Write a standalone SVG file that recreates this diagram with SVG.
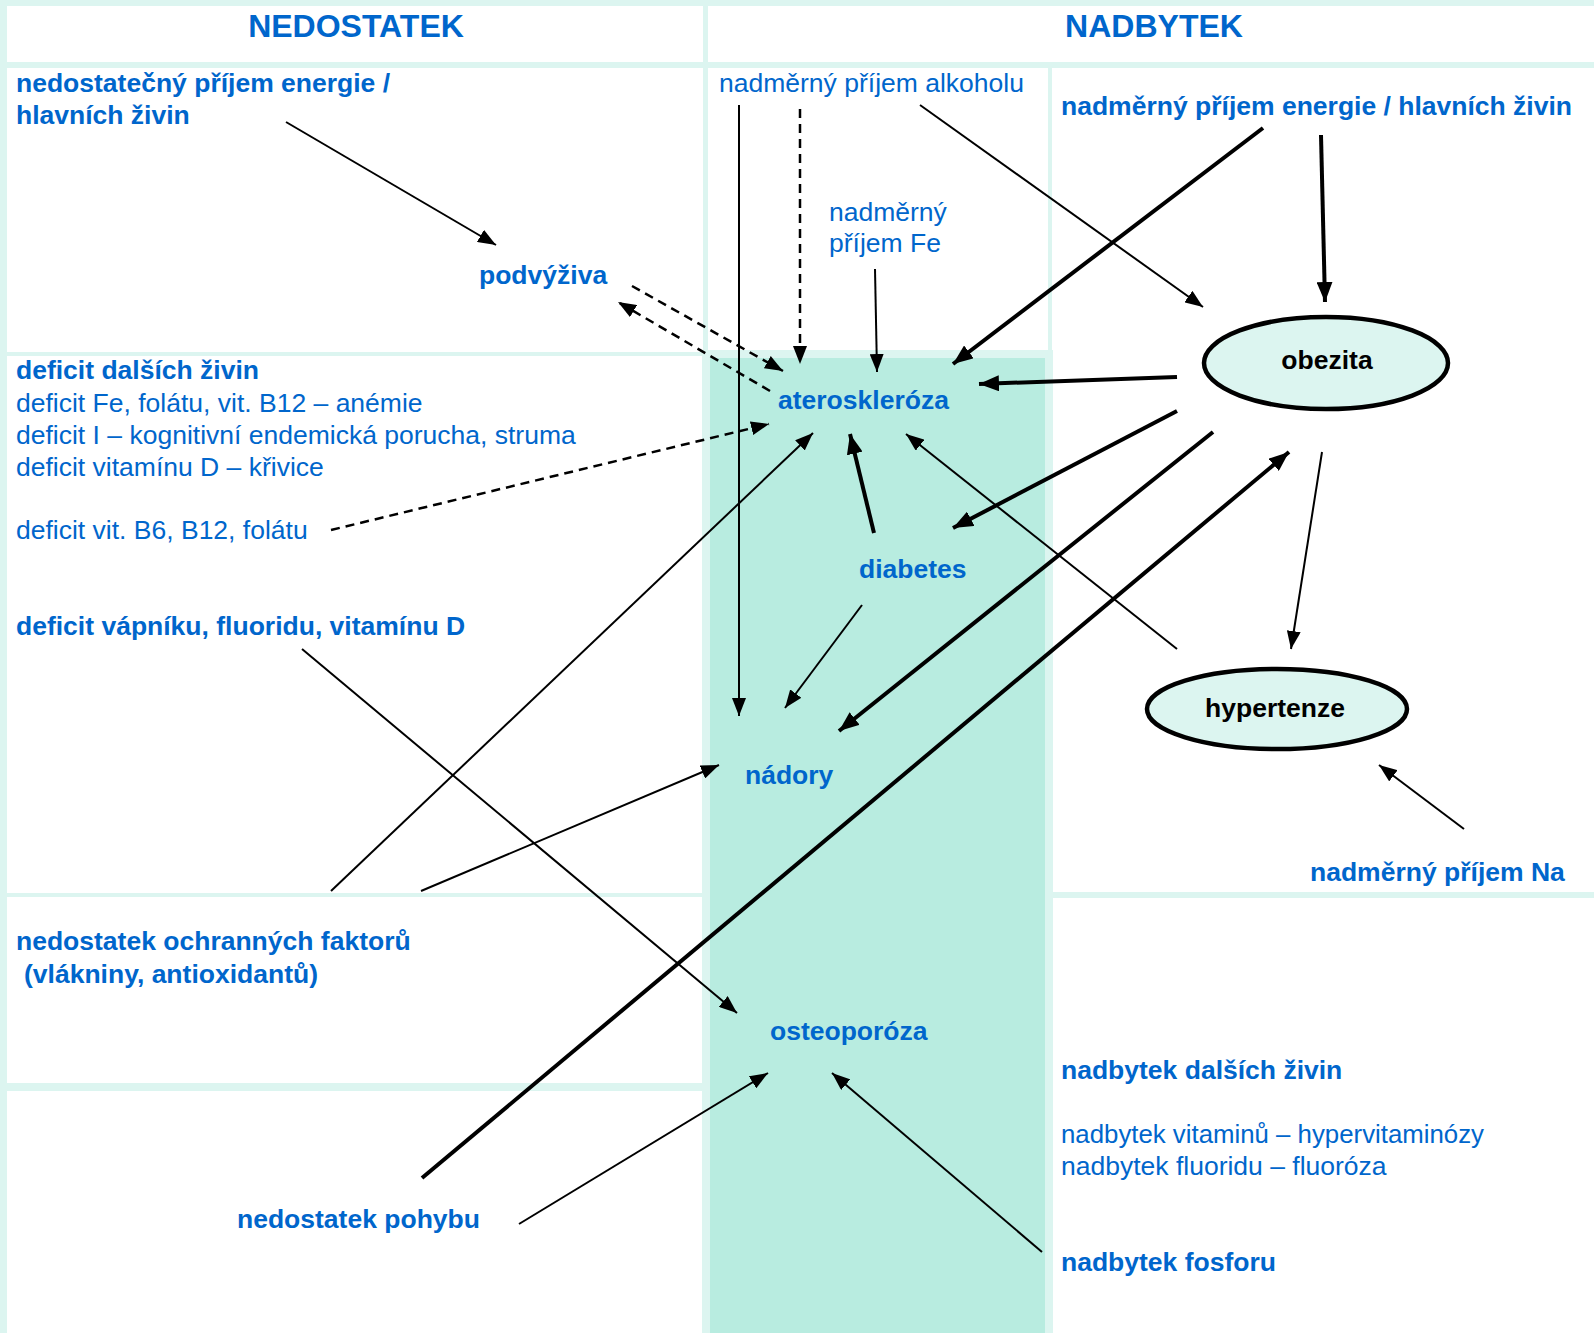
<svg xmlns="http://www.w3.org/2000/svg" width="1594" height="1333" viewBox="0 0 1594 1333">
<style>
text{font-family:"Liberation Sans",Arial,sans-serif;font-size:26.5px;fill:#0066cc}
.b{font-weight:bold}
.hd{font-size:32px;font-weight:bold;text-anchor:middle}
.blk{fill:#000;font-weight:bold;text-anchor:middle}
.cell{fill:#fff}
.thin{stroke:#000;stroke-width:2;fill:none;marker-end:url(#ah)}
.thick{stroke:#000;stroke-width:4;fill:none;marker-end:url(#ahL)}
.dash{stroke:#000;stroke-width:2.5;fill:none;stroke-dasharray:9 6;marker-end:url(#ah)}
.ell{fill:#dcf5f0;stroke:#000;stroke-width:4.5}
</style>
<defs>
<marker id="ah" markerUnits="userSpaceOnUse" markerWidth="18" markerHeight="14" refX="18" refY="7" orient="auto"><path d="M0,0 L18,7 L0,14 z" fill="#000"/></marker>
<marker id="ahL" markerUnits="userSpaceOnUse" markerWidth="20" markerHeight="16" refX="20" refY="8" orient="auto"><path d="M0,0 L20,8 L0,16 z" fill="#000"/></marker>
</defs>
<g id="background">
<rect x="0" y="0" width="1594" height="1333" fill="#dcf5f0"/>
<rect class="cell" x="7" y="6" width="696" height="56"/>
<rect class="cell" x="708" y="6" width="886" height="56"/>
<rect class="cell" x="7" y="68" width="696" height="284"/>
<rect class="cell" x="708" y="68" width="340" height="282"/>
<rect class="cell" x="1052" y="68" width="542" height="824"/>
<rect class="cell" x="7" y="356" width="695" height="537"/>
<rect class="cell" x="7" y="897" width="695" height="186"/>
<rect class="cell" x="7" y="1091" width="697" height="242"/>
<rect class="cell" x="1052" y="898" width="542" height="435"/>
<rect x="702" y="350" width="351" height="983" fill="#dcf5f0"/>
<rect x="710" y="358" width="335" height="975" fill="#b8ece0"/>
</g>
<g id="headers">
<text class="hd" x="356" y="37">NEDOSTATEK</text>
<text class="hd" x="1154" y="37">NADBYTEK</text>
</g>
<g id="connectors">
<line class="thin" x1="286" y1="122" x2="496" y2="245"/>
<line class="dash" x1="632" y1="286" x2="783" y2="371"/>
<line class="dash" x1="770" y1="391" x2="618" y2="302"/>
<line class="dash" x1="800" y1="109" x2="800" y2="364"/>
<line class="thin" x1="739" y1="105" x2="739" y2="716"/>
<line class="thin" x1="920" y1="105" x2="1203" y2="307"/>
<line class="thin" x1="875" y1="269" x2="877" y2="372"/>
<line class="thick" x1="1263" y1="128" x2="953" y2="364"/>
<line class="thick" x1="1321" y1="135" x2="1325" y2="302"/>
<line class="thick" x1="1177" y1="377" x2="979" y2="384"/>
<line class="thick" x1="1177" y1="411" x2="953" y2="528"/>
<line class="thick" x1="1213" y1="432" x2="839" y2="731"/>
<line class="thin" x1="1322" y1="452" x2="1291" y2="649"/>
<line class="thin" x1="1177" y1="649" x2="906" y2="434"/>
<line class="thin" x1="1464" y1="829" x2="1379" y2="765"/>
<line class="thick" x1="874" y1="533" x2="850" y2="434"/>
<line class="thin" x1="862" y1="605" x2="785" y2="708"/>
<line class="dash" x1="331" y1="530" x2="769" y2="424"/>
<line class="thin" x1="331" y1="891" x2="813" y2="433"/>
<line class="thin" x1="421" y1="891" x2="719" y2="765"/>
<line class="thin" x1="302" y1="649" x2="737" y2="1013"/>
<line class="thick" x1="422" y1="1178" x2="1289" y2="452"/>
<line class="thin" x1="519" y1="1224" x2="768" y2="1073"/>
<line class="thin" x1="1042" y1="1252" x2="832" y2="1073"/>
</g>
<g id="n-nedostatecny-prijem"><text class="b" x="16" y="92">nedostatečný příjem energie /</text><text class="b" x="16" y="123.5">hlavních živin</text></g>
<g id="n-alkohol"><text x="719" y="92">nadměrný příjem alkoholu</text></g>
<g id="n-nadmerny-prijem"><text class="b" x="1061" y="115">nadměrný příjem energie / hlavních živin</text></g>
<g id="n-fe"><text x="829" y="220.5">nadměrný</text><text x="829" y="252">příjem Fe</text></g>
<g id="n-podvyziva"><text class="b" x="479" y="283.5">podvýživa</text></g>
<g id="n-ateroskleroza"><text class="b" x="778" y="409">ateroskleróza</text></g>
<g id="n-obezita"><ellipse class="ell" cx="1326" cy="363" rx="122" ry="46"/><text class="blk" x="1327" y="369">obezita</text></g>
<g id="n-hypertenze"><ellipse class="ell" cx="1277" cy="709" rx="130" ry="40"/><text class="blk" x="1275" y="717">hypertenze</text></g>
<g id="n-deficit-dalsich">
<text class="b" x="16" y="379">deficit dalších živin</text>
<text x="16" y="411.5">deficit Fe, folátu, vit. B12 – anémie</text>
<text x="16" y="443.5">deficit I – kognitivní endemická porucha, struma</text>
<text x="16" y="475.5">deficit vitamínu D – křivice</text>
</g>
<g id="n-deficit-b6"><text x="16" y="538.5">deficit vit. B6, B12, folátu</text></g>
<g id="n-diabetes"><text class="b" x="859" y="578">diabetes</text></g>
<g id="n-deficit-vapniku"><text class="b" x="16" y="635">deficit vápníku, fluoridu, vitamínu D</text></g>
<g id="n-nadory"><text class="b" x="745" y="783.5">nádory</text></g>
<g id="n-na"><text class="b" x="1310" y="881">nadměrný příjem Na</text></g>
<g id="n-ochrannych"><text class="b" x="16" y="950">nedostatek ochranných faktorů</text><text class="b" x="24" y="983">(vlákniny, antioxidantů)</text></g>
<g id="n-osteoporoza"><text class="b" x="770" y="1040">osteoporóza</text></g>
<g id="n-nadbytek-dalsich">
<text class="b" x="1061" y="1078.5">nadbytek dalších živin</text>
<text x="1061" y="1142.5" style="font-size:25.8px">nadbytek vitaminů – hypervitaminózy</text>
<text x="1061" y="1175">nadbytek fluoridu – fluoróza</text>
</g>
<g id="n-pohybu"><text class="b" x="237" y="1228">nedostatek pohybu</text></g>
<g id="n-fosforu"><text class="b" x="1061" y="1270.5">nadbytek fosforu</text></g>
</svg>
